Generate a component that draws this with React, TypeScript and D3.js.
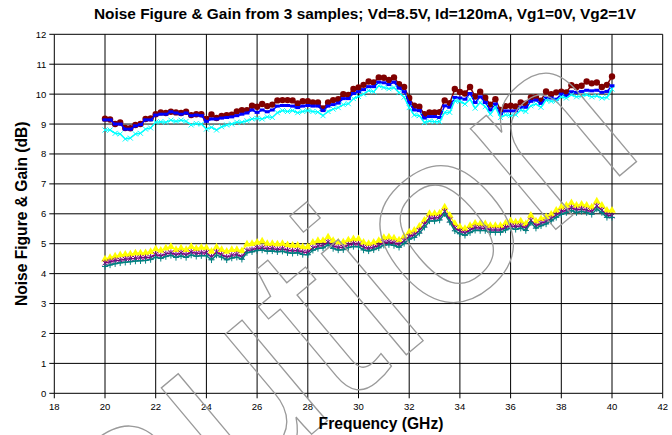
import * as d3 from "d3";

const WIDTH = 672;
const HEIGHT = 435;
const PLOT = { left: 54.3, right: 662.7, top: 34.3, bottom: 393.3 };

// frequency grid of the measurement: 20 to 40 GHz in 0.2 GHz steps
const FREQ = d3.range(0, 101).map((i) => +(20 + i * 0.2).toFixed(1));

// gain, sample 1..3 (dB)
const GAIN_1 = [
  9.18, 9.15, 9.0, 9.05, 8.87, 8.86, 8.97, 9.0, 9.17, 9.19,
  9.33, 9.39, 9.37, 9.41, 9.39, 9.37, 9.41, 9.3, 9.33, 9.33,
  9.17, 9.32, 9.2, 9.27, 9.3, 9.31, 9.42, 9.46, 9.46, 9.61,
  9.58, 9.67, 9.6, 9.65, 9.79, 9.8, 9.8, 9.79, 9.69, 9.76,
  9.76, 9.72, 9.72, 9.52, 9.72, 9.8, 9.83, 10.0, 9.97, 10.17,
  10.22, 10.31, 10.42, 10.39, 10.56, 10.55, 10.47, 10.56, 10.33, 10.24,
  9.87, 9.61, 9.58, 9.33, 9.39, 9.39, 9.4, 9.79, 9.7, 10.17,
  10.07, 10.02, 10.24, 9.92, 10.08, 9.88, 9.65, 9.83, 9.47, 9.6,
  9.61, 9.59, 9.72, 9.68, 9.89, 9.9, 9.78, 10.09, 10.0, 10.06,
  10.08, 10.06, 10.3, 10.24, 10.28, 10.42, 10.36, 10.39, 10.24, 10.31,
  10.59,
];
const GAIN_2 = [
  9.14, 9.14, 9.0, 9.0, 8.83, 8.83, 8.94, 8.98, 9.14, 9.14,
  9.3, 9.33, 9.33, 9.41, 9.37, 9.33, 9.37, 9.28, 9.3, 9.28,
  9.09, 9.17, 9.17, 9.2, 9.22, 9.24, 9.28, 9.33, 9.37, 9.47,
  9.39, 9.47, 9.41, 9.47, 9.6, 9.62, 9.62, 9.6, 9.55, 9.6,
  9.62, 9.6, 9.6, 9.45, 9.6, 9.65, 9.7, 9.85, 9.85, 10.02,
  10.08, 10.15, 10.25, 10.25, 10.4, 10.38, 10.32, 10.4, 10.2, 10.08,
  9.72, 9.47, 9.45, 9.2, 9.25, 9.25, 9.22, 9.61, 9.56, 9.89,
  9.87, 9.83, 10.02, 9.72, 9.91, 9.72, 9.47, 9.67, 9.33, 9.44,
  9.44, 9.44, 9.56, 9.56, 9.76, 9.8, 9.69, 9.87, 9.87, 9.83,
  10.0, 9.94, 10.08, 10.06, 10.09, 10.13, 10.11, 10.13, 10.06, 10.09,
  10.28,
];
const GAIN_3 = [
  8.8, 8.8, 8.69, 8.67, 8.5, 8.53, 8.67, 8.69, 8.83, 8.87,
  9.06, 9.08, 9.06, 9.13, 9.09, 9.13, 9.09, 8.97, 9.02, 9.0,
  8.83, 8.89, 8.8, 8.91, 8.97, 9.0, 9.06, 9.06, 9.11, 9.17,
  9.19, 9.17, 9.24, 9.22, 9.38, 9.45, 9.42, 9.45, 9.38, 9.42,
  9.45, 9.42, 9.4, 9.28, 9.42, 9.5, 9.55, 9.65, 9.68, 9.85,
  9.92, 10.0, 10.12, 10.08, 10.28, 10.22, 10.18, 10.22, 10.05, 9.9,
  9.55, 9.3, 9.28, 9.05, 9.1, 9.08, 9.08, 9.39, 9.39, 9.78,
  9.76, 9.67, 9.83, 9.53, 9.72, 9.58, 9.33, 9.56, 9.22, 9.31,
  9.28, 9.31, 9.47, 9.42, 9.61, 9.67, 9.56, 9.8, 9.76, 9.78,
  9.91, 9.87, 9.98, 9.91, 9.94, 9.98, 9.91, 9.94, 9.87, 9.89,
  10.17,
];

// noise figure, sample 1..3 (dB)
const NF_1 = [
  4.48, 4.53, 4.58, 4.62, 4.64, 4.65, 4.68, 4.68, 4.69, 4.73,
  4.82, 4.77, 4.85, 4.9, 4.8, 4.85, 4.8, 4.9, 4.83, 4.87,
  4.86, 4.74, 4.88, 4.8, 4.74, 4.8, 4.8, 4.76, 4.98, 5.0,
  5.04, 5.08, 5.0, 5.0, 4.98, 5.0, 4.96, 4.94, 4.94, 4.89,
  4.89, 5.04, 5.1, 5.1, 5.22, 5.1, 5.05, 5.05, 5.12, 5.16,
  5.16, 5.04, 5.0, 5.04, 5.1, 5.2, 5.22, 5.18, 5.12, 5.24,
  5.38, 5.44, 5.58, 5.78, 6.0, 6.0, 6.02, 6.22, 5.94, 5.67,
  5.56, 5.5, 5.6, 5.68, 5.66, 5.66, 5.6, 5.6, 5.6, 5.68,
  5.76, 5.72, 5.75, 5.66, 5.94, 5.75, 5.83, 5.89, 5.98, 6.11,
  6.22, 6.28, 6.36, 6.28, 6.31, 6.28, 6.22, 6.42, 6.28, 6.11,
  6.11,
];
const NF_2 = [
  4.36, 4.4, 4.44, 4.45, 4.48, 4.5, 4.51, 4.53, 4.53, 4.55,
  4.64, 4.59, 4.66, 4.7, 4.63, 4.69, 4.63, 4.72, 4.67, 4.69,
  4.7, 4.55, 4.72, 4.63, 4.55, 4.61, 4.64, 4.56, 4.77, 4.8,
  4.85, 4.86, 4.83, 4.84, 4.8, 4.83, 4.78, 4.76, 4.77, 4.72,
  4.71, 4.86, 4.92, 4.94, 5.05, 4.93, 4.87, 4.88, 4.96, 5.0,
  4.99, 4.88, 4.84, 4.88, 4.94, 5.04, 5.06, 5.03, 4.97, 5.1,
  5.24, 5.3, 5.44, 5.64, 5.86, 5.85, 5.88, 6.08, 5.8, 5.52,
  5.42, 5.36, 5.46, 5.54, 5.52, 5.52, 5.46, 5.46, 5.46, 5.54,
  5.6, 5.57, 5.6, 5.52, 5.78, 5.6, 5.68, 5.74, 5.84, 5.96,
  6.07, 6.12, 6.2, 6.13, 6.16, 6.12, 6.07, 6.26, 6.12, 5.96,
  5.93,
];
const NF_3 = [
  4.24, 4.29, 4.33, 4.36, 4.38, 4.4, 4.42, 4.43, 4.44, 4.47,
  4.55, 4.51, 4.57, 4.61, 4.54, 4.59, 4.54, 4.62, 4.58, 4.6,
  4.6, 4.46, 4.62, 4.55, 4.46, 4.52, 4.55, 4.48, 4.7, 4.73,
  4.77, 4.79, 4.75, 4.76, 4.73, 4.75, 4.7, 4.68, 4.7, 4.64,
  4.63, 4.78, 4.84, 4.86, 4.96, 4.84, 4.79, 4.8, 4.87, 4.91,
  4.9, 4.79, 4.76, 4.8, 4.86, 4.95, 4.97, 4.94, 4.88, 5.01,
  5.15, 5.21, 5.35, 5.55, 5.76, 5.76, 5.79, 6.0, 5.72, 5.43,
  5.33, 5.28, 5.37, 5.45, 5.44, 5.44, 5.38, 5.38, 5.38, 5.46,
  5.52, 5.48, 5.52, 5.44, 5.7, 5.52, 5.6, 5.66, 5.76, 5.88,
  5.98, 6.04, 6.11, 6.04, 6.08, 6.04, 5.98, 6.16, 6.04, 5.88,
  5.88,
];

const X_TICKS = [18, 20, 22, 24, 26, 28, 30, 32, 34, 36, 38, 40, 42];
const Y_TICKS = [0, 1, 2, 3, 4, 5, 6, 7, 8, 9, 10, 11, 12];

const TITLE = "Noise Figure & Gain from 3 samples; Vd=8.5V, Id=120mA, Vg1=0V, Vg2=1V";
const FONT = "'Liberation Sans', Arial, sans-serif";

type Marker = "circle" | "dash" | "x" | "triangle" | "star" | "plus";

const SERIES: { name: string; values: number[]; color: string; marker: Marker }[] = [
  { name: "Gain #1", values: GAIN_1, color: "#800000", marker: "circle" },
  { name: "Gain #2", values: GAIN_2, color: "#0000ff", marker: "dash" },
  { name: "Gain #3", values: GAIN_3, color: "#00ffff", marker: "x" },
  { name: "NF #1", values: NF_1, color: "#ffff00", marker: "triangle" },
  { name: "NF #2", values: NF_2, color: "#800080", marker: "star" },
  { name: "NF #3", values: NF_3, color: "#008080", marker: "plus" },
];

const triangle = d3.symbol(d3.symbolTriangle, 26)() as string;

const MarkerShape = ({ kind, color }: { kind: Marker; color: string }) => {
  switch (kind) {
    case "circle":
      return <circle r={3.2} fill={color} />;
    case "dash":
      return <rect x={-2.5} y={-1.5} width={5} height={3} fill={color} />;
    case "x":
      return <path d="M-2.5,-2.5L2.5,2.5M-2.5,2.5L2.5,-2.5" stroke={color} strokeWidth={1} />;
    case "triangle":
      return <path d={triangle} fill={color} />;
    case "star":
      return (
        <path d="M-2.5,-2.5L2.5,2.5M-2.5,2.5L2.5,-2.5M0,-3.2V3.2" stroke={color} strokeWidth={1} />
      );
    case "plus":
      return <path d="M-3,0H3M0,-3.2V3.2" stroke={color} strokeWidth={1} />;
  }
};

export default function App() {
  const x = d3.scaleLinear().domain([18, 42]).range([PLOT.left, PLOT.right]);
  const y = d3.scaleLinear().domain([0, 12]).range([PLOT.bottom, PLOT.top]);

  const line = d3
    .line<number>()
    .x((_, i) => x(FREQ[i]))
    .y((d) => y(d));

  return (
    <svg
      width={WIDTH}
      height={HEIGHT}
      style={{ position: "absolute", left: 0, top: 0, background: "#fff" }}
      fontFamily={FONT}
    >
      <rect width={WIDTH} height={HEIGHT} fill="#fff" />

      {/* grid */}
      <g stroke="#000" strokeWidth={1}>
        {Y_TICKS.map((t) => (
          <line key={"h" + t} x1={PLOT.left} x2={PLOT.right} y1={y(t)} y2={y(t)} />
        ))}
        {X_TICKS.map((t) => (
          <line key={"v" + t} x1={x(t)} x2={x(t)} y1={PLOT.top} y2={PLOT.bottom} />
        ))}
      </g>

      {/* axes ticks */}
      <g stroke="#000" strokeWidth={1}>
        {Y_TICKS.map((t) => (
          <line key={"yt" + t} x1={PLOT.left - 5} x2={PLOT.left} y1={y(t)} y2={y(t)} />
        ))}
        {X_TICKS.map((t) => (
          <line key={"xt" + t} x1={x(t)} x2={x(t)} y1={PLOT.bottom} y2={PLOT.bottom + 5} />
        ))}
      </g>
      <g fontSize={9.5} fill="#000">
        {Y_TICKS.map((t) => (
          <text key={"yl" + t} x={PLOT.left - 8} y={y(t) + 3.5} textAnchor="end">
            {t}
          </text>
        ))}
        {X_TICKS.map((t) => (
          <text key={"xl" + t} x={x(t)} y={PLOT.bottom + 17} textAnchor="middle">
            {t}
          </text>
        ))}
      </g>

      {/* series */}
      {SERIES.map((s) => (
        <g key={s.name}>
          <path d={line(s.values) ?? ""} fill="none" stroke={s.color} strokeWidth={1.5} />
          {s.values.map((v, i) => (
            <g key={i} transform={`translate(${x(FREQ[i])},${y(v)})`}>
              <MarkerShape kind={s.marker} color={s.color} />
            </g>
          ))}
        </g>
      ))}

      {/* watermark */}
      <text
        transform="translate(-11,705) rotate(-40)"
        fontSize={250}
        fill="none"
        stroke="#9a9a9a"
        strokeWidth={1.3}
        fontFamily={FONT}
      >
        Caution
      </text>

      {/* titles */}
      <text x={365} y={19} textAnchor="middle" fontSize={15.4} fontWeight="bold">
        {TITLE}
      </text>
      <text
        transform={`translate(27,${(PLOT.top + PLOT.bottom) / 2}) rotate(-90)`}
        textAnchor="middle"
        fontSize={15.6}
        fontWeight="bold"
      >
        Noise Figure &amp; Gain (dB)
      </text>
      <text x={381} y={429} textAnchor="middle" fontSize={15.6} fontWeight="bold">
        Frequency (GHz)
      </text>
    </svg>
  );
}
